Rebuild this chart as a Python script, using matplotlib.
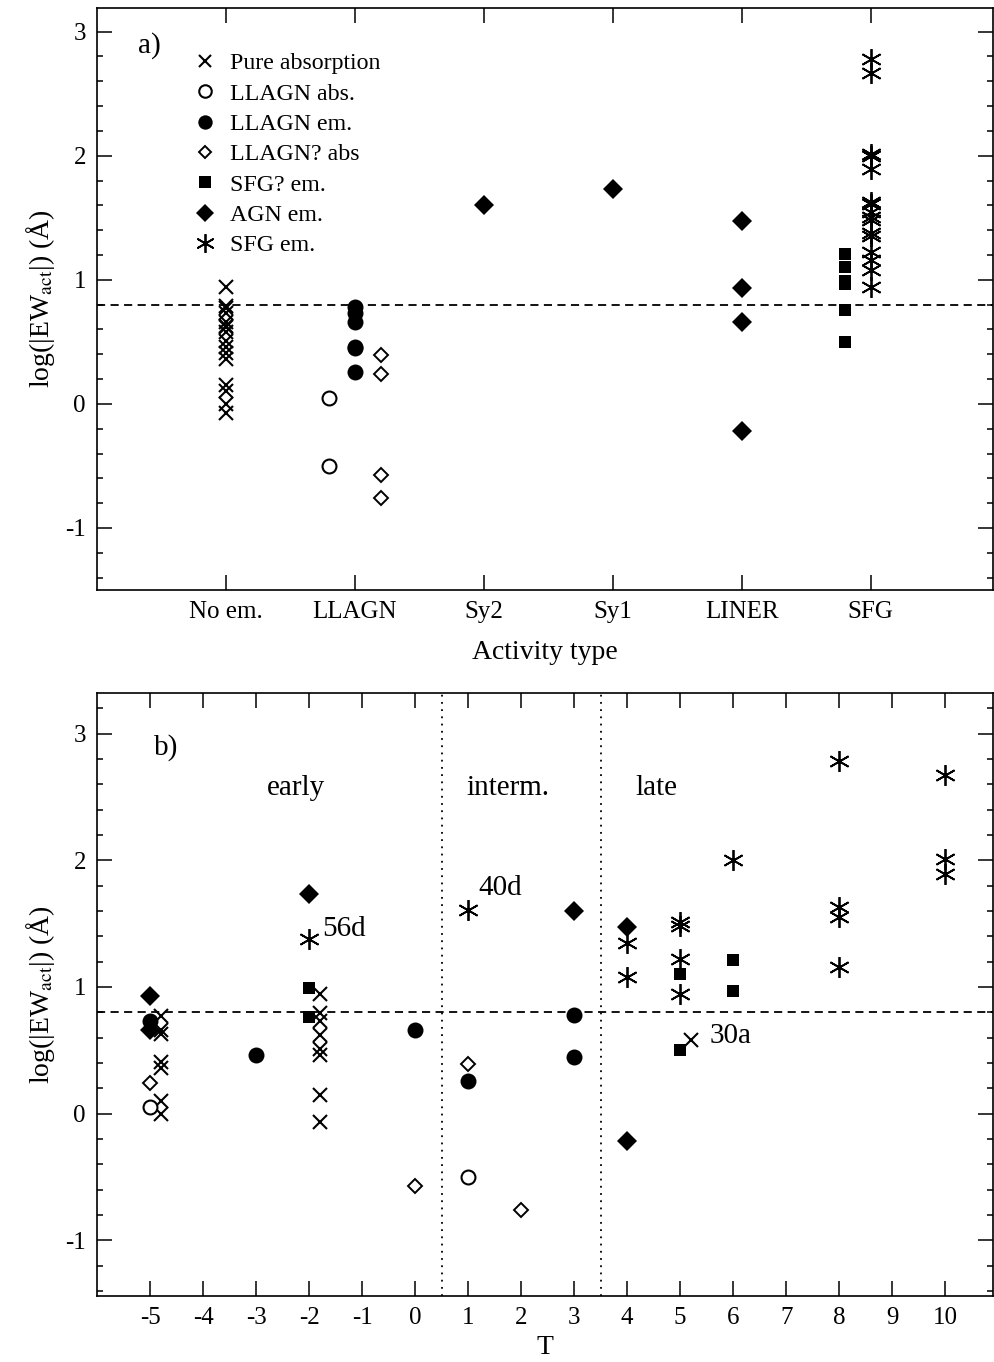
import numpy as np
import matplotlib.pyplot as plt
from matplotlib.ticker import MultipleLocator

plt.rcParams['font.family'] = ['Liberation Serif', 'DejaVu Serif']
plt.rcParams['mathtext.fontset'] = 'stix'
plt.rcParams['axes.unicode_minus'] = False

# activity classes (panel a) and Hubble types (panel b)
act_labels = ['No em.', 'LLAGN', 'Sy2', 'Sy1', 'LINER', 'SFG']
t_ticks = [-5, -4, -3, -2, -1, 0, 1, 2, 3, 4, 5, 6, 7, 8, 9, 10]

# log|EW_act| per group
pure_abs_T = [-5, -5, -5, -5, -5, -5, -5, -2, -2, -2, -2, -2, -2, -2, -2, 5]
pure_abs = [0.77, 0.66, 0.63, 0.41, 0.36, 0.10, 0.00,
            0.94, 0.79, 0.73, 0.62, 0.51, 0.46, 0.15, -0.07, 0.58]
pure_abs_act = ['No em.'] * 16

llagn_abs_T = [-5, 1]
llagn_abs = [0.05, -0.50]
llagn_abs_act = ['LLAGN', 'LLAGN']

llagn_em_T = [-5, -3, 0, 1, 3, 3]
llagn_em = [0.73, 0.46, 0.66, 0.26, 0.78, 0.45]
llagn_em_act = ['LLAGN'] * 6

llagnq_abs_T = [-5, 0, 1, 2]
llagnq_abs = [0.24, -0.57, 0.39, -0.76]
llagnq_abs_act = ['LLAGN'] * 4

sfgq_em_T = [-2, -2, 5, 5, 6, 6]
sfgq_em = [0.99, 0.76, 1.10, 0.50, 1.21, 0.97]
sfgq_em_act = ['SFG'] * 6

agn_em_T = [-5, -5, -2, 3, 4, 4]
agn_em = [0.93, 0.66, 1.73, 1.60, 1.47, -0.22]
agn_em_act = ['LINER', 'LINER', 'Sy1', 'Sy2', 'LINER', 'LINER']

sfg_em_T = [-2, 1, 4, 4, 5, 5, 5, 5, 6, 8, 8, 8, 8, 10, 10, 10]
sfg_em = [1.38, 1.61, 1.35, 1.08, 1.51, 1.48, 1.22, 0.94, 2.00,
          2.78, 1.63, 1.55, 1.16, 2.67, 2.01, 1.89]
sfg_em_act = ['SFG'] * 16

# galaxy names written next to some points in panel b
names = ['56d', '40d', '30a']
name_T = [-1.75, 1.2, 5.55]
name_y = [1.46, 1.78, 0.61]

star6 = (6, 2, 0)
groups = [
    # label, T, act, values, marker style, offset a, offset b
    ('Pure absorption', pure_abs_T, pure_abs_act, pure_abs,
     dict(marker='x', ms=10, mew=1.5, color='k'), 0.0, 0.2),
    ('LLAGN abs.', llagn_abs_T, llagn_abs_act, llagn_abs,
     dict(marker='o', ms=10, mew=1.5, mfc='white', mec='k'), -0.2, 0.0),
    ('LLAGN em.', llagn_em_T, llagn_em_act, llagn_em,
     dict(marker='o', ms=11.5, mew=0, color='k'), 0.0, 0.0),
    ('LLAGN? abs', llagnq_abs_T, llagnq_abs_act, llagnq_abs,
     dict(marker='D', ms=7.3, mew=1.4, mfc='white', mec='k'), 0.2, 0.0),
    ('SFG? em.', sfgq_em_T, sfgq_em_act, sfgq_em,
     dict(marker='s', ms=9, mew=0, color='k'), -0.2, 0.0),
    ('AGN em.', agn_em_T, agn_em_act, agn_em,
     dict(marker='D', ms=10, mew=0, color='k'), 0.0, 0.0),
    ('SFG em.', sfg_em_T, sfg_em_act, sfg_em,
     dict(marker=star6, ms=15, mew=1.3, color='k'), 0.0, 0.0),
]

fig = plt.figure(figsize=(9.95, 13.62), dpi=100)
ax1 = fig.add_axes([0.0975, 0.5668, 0.9005, 0.4273])
ax2 = fig.add_axes([0.0975, 0.0485, 0.9005, 0.4427])

for lab, T, act, vals, st, da, db in groups:
    xa = [act_labels.index(a) + 1 + da for a in act]
    ax1.plot(xa, vals, ls='none', label=lab, **st)
    ax2.plot(np.array(T) + db, vals, ls='none', **st)

# panel a
ax1.axhline(0.8, color='k', ls=(0, (4.5, 3)), lw=1.3)
ax1.set_xlim(0, 6.95)
ax1.set_ylim(-1.5, 3.19)
ax1.set_xticks(range(1, 7))
ax1.set_xticklabels(act_labels)
ax1.set_xlabel('Activity type', fontsize=20, labelpad=12)
ax1.text(0.32, 2.89, 'a)', fontsize=21, va='center')
ax1.legend(loc='upper left', bbox_to_anchor=(0.095, 0.944), frameon=False,
           fontsize=17.2, handlelength=0.9, handletextpad=0.6,
           labelspacing=0.36, borderpad=0, markerscale=0.9)

# panel b
ax2.axhline(0.8, color='k', ls=(0, (4.5, 3)), lw=1.3)
for xv in (0.5, 3.5):
    ax2.axvline(xv, color='k', ls=(0, (1, 3)), lw=1.3)
ax2.set_xlim(-6, 10.9)
ax2.set_ylim(-1.44, 3.32)
ax2.set_xticks(t_ticks)
ax2.set_xlabel('T', fontsize=20, labelpad=4)
ax2.text(-4.92, 2.89, 'b)', fontsize=21, va='center')
ax2.text(-2.25, 2.57, 'early', fontsize=21, ha='center', va='center')
ax2.text(1.75, 2.57, 'interm.', fontsize=21, ha='center', va='center')
ax2.text(4.55, 2.57, 'late', fontsize=21, ha='center', va='center')
for name, tx, ty in zip(names, name_T, name_y):
    ax2.text(tx, ty, name, fontsize=21, va='center', ha='left')

for ax in (ax1, ax2):
    ax.set_ylabel('log(|EW$_{\\rm act}$|) (Å)', fontsize=20, labelpad=6)
    ax.set_yticks([-1, 0, 1, 2, 3])
    ax.yaxis.set_minor_locator(MultipleLocator(0.2))
    ax.tick_params(direction='in', which='both', top=True, right=True,
                   labelsize=18, width=1.1)
    ax.tick_params(which='major', length=11, pad=8)
    ax.tick_params(which='minor', length=4)
    for sp in ax.spines.values():
        sp.set_linewidth(1.2)

fig.savefig('out.png', dpi=100)
